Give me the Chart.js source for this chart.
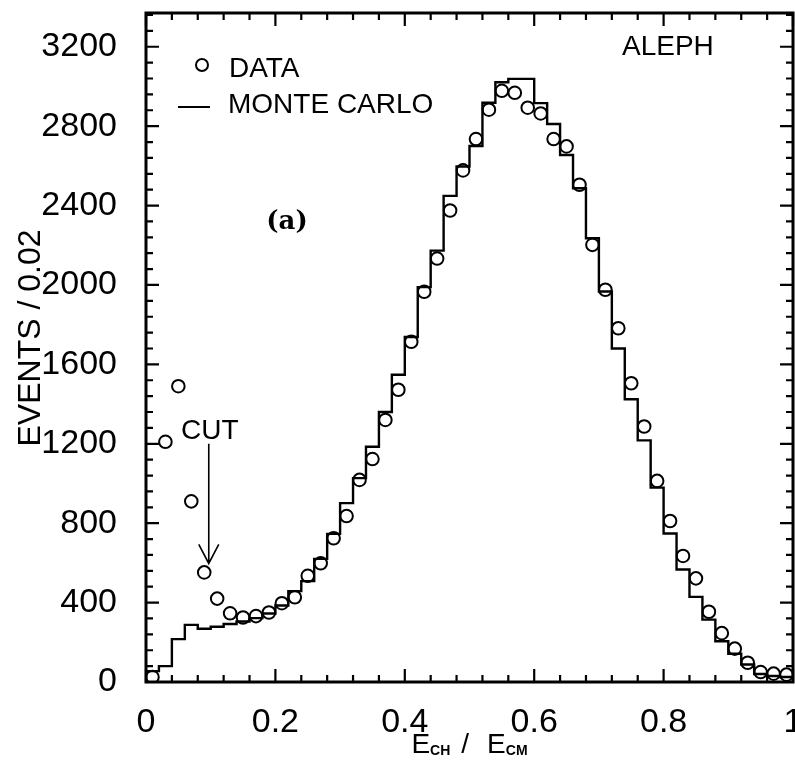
<!DOCTYPE html>
<html>
<head>
<meta charset="utf-8">
<script src="https://cdn.jsdelivr.net/npm/chart.js@4.4.1/dist/chart.umd.min.js"></script>
<style>
  html, body { margin: 0; padding: 0; background: #fff; }
  #wrap { width: 795px; height: 765px; }
</style>
</head>
<body>
<div id="wrap"><canvas id="c" width="795" height="765"></canvas></div>
<script>
// Bin centres of E_CH / E_CM (bin width 0.02)
const binCenters = [
  0.01, 0.03, 0.05, 0.07, 0.09, 0.11, 0.13, 0.15, 0.17, 0.19,
  0.21, 0.23, 0.25, 0.27, 0.29, 0.31, 0.33, 0.35, 0.37, 0.39,
  0.41, 0.43, 0.45, 0.47, 0.49, 0.51, 0.53, 0.55, 0.57, 0.59,
  0.61, 0.63, 0.65, 0.67, 0.69, 0.71, 0.73, 0.75, 0.77, 0.79,
  0.81, 0.83, 0.85, 0.87, 0.89, 0.91, 0.93, 0.95, 0.97, 0.99
];
const binWidth = 0.02;

// DATA (open circles), events / 0.02
const dataEvents = [
  25, 1210, 1490, 910, 552, 420, 346, 325, 332, 350,
  397, 427, 535, 598, 724, 836, 1018, 1123, 1320, 1472,
  1714, 1966, 2133, 2375, 2577, 2735, 2883, 2978, 2968, 2893,
  2864, 2735, 2698, 2505, 2202, 1976, 1782, 1505, 1287, 1013,
  811, 635, 522, 354, 246, 168, 97, 50, 42, 37
];

// MONTE CARLO (histogram), events / 0.02
const monteCarlo = [
  55, 80, 216, 288, 268, 278, 292, 305, 322, 345,
  385, 458, 508, 620, 746, 901, 1027, 1185, 1360, 1548,
  1738, 1989, 2173, 2449, 2597, 2700, 2918, 3021, 3038, 3038,
  2916, 2811, 2655, 2487, 2235, 1967, 1680, 1424, 1217, 979,
  748, 567, 429, 314, 205, 142, 88, 40, 30, 25
];

const yTickValues = [0, 400, 800, 1200, 1600, 2000, 2400, 2800, 3200];
const xTickValues = [0, 0.2, 0.4, 0.6, 0.8, 1];

// histogram built from bin low edges, stepped line
const mcPoints = binCenters.map((c, i) => ({ x: c - binWidth / 2, y: monteCarlo[i] }));
mcPoints.push({ x: binCenters[binCenters.length - 1] + binWidth / 2, y: monteCarlo[monteCarlo.length - 1] });
const dataPoints = binCenters.map((c, i) => ({ x: c, y: dataEvents[i] }));

const SANS = "'Liberation Sans', Arial, Helvetica, sans-serif";

function zeroPad(s) { s.paddingTop = 0; s.paddingBottom = 0; s.paddingLeft = 0; s.paddingRight = 0; }

const decor = {
  id: 'decor',
  beforeDraw(chart) {
    const ctx = chart.ctx;
    ctx.save();
    ctx.fillStyle = '#fff';
    ctx.fillRect(0, 0, chart.width, chart.height);
    ctx.restore();
  },
  afterDraw(chart) {
    const ctx = chart.ctx;
    const a = chart.chartArea;
    const xs = chart.scales.x, ys = chart.scales.y;
    ctx.save();
    ctx.strokeStyle = '#000';
    ctx.fillStyle = '#000';
    // frame
    ctx.lineWidth = 3;
    ctx.strokeRect(a.left, a.top, a.right - a.left, a.bottom - a.top);
    // inward ticks
    ctx.lineWidth = 2.2;
    ctx.beginPath();
    for (let k = 0; k * 80 <= ys.max; k++) {
      const v = k * 80;
      const py = ys.getPixelForValue(v);
      const len = (k % 5 === 0) ? 13 : 7;
      ctx.moveTo(a.left, py); ctx.lineTo(a.left + len, py);
      ctx.moveTo(a.right, py); ctx.lineTo(a.right - len, py);
    }
    for (let k = 0; k <= 25; k++) {
      const v = k * 0.04;
      const px = xs.getPixelForValue(v);
      const len = (k % 5 === 0) ? 13 : 7;
      ctx.moveTo(px, a.bottom); ctx.lineTo(px, a.bottom - len);
      ctx.moveTo(px, a.top); ctx.lineTo(px, a.top + len);
    }
    ctx.stroke();

    // legend
    ctx.lineWidth = 2;
    ctx.beginPath();
    ctx.arc(202, 65, 6, 0, Math.PI * 2);
    ctx.stroke();
    ctx.beginPath();
    ctx.moveTo(178, 107); ctx.lineTo(210, 107);
    ctx.stroke();
    ctx.font = '28px ' + SANS;
    ctx.textAlign = 'left';
    ctx.textBaseline = 'alphabetic';
    ctx.fillText('DATA', 229, 77);
    ctx.fillText('MONTE CARLO', 228, 113);

    // ALEPH
    ctx.fillText('ALEPH', 622, 55);

    // (a)
    ctx.font = 'bold 26px "DejaVu Serif", "Liberation Serif", serif';
    ctx.textAlign = 'center';
    ctx.fillText('(a)', 287, 229);

    // CUT arrow
    const ax = xs.getPixelForValue(0.097);
    const aTop = ys.getPixelForValue(1200);
    const aTip = ys.getPixelForValue(597);
    ctx.font = '28px ' + SANS;
    ctx.textAlign = 'center';
    ctx.fillText('CUT', ax + 1, aTop - 5);
    ctx.lineWidth = 1.6;
    ctx.beginPath();
    ctx.moveTo(ax, aTop); ctx.lineTo(ax, aTip);
    ctx.moveTo(ax - 10, aTip - 19); ctx.lineTo(ax, aTip); ctx.lineTo(ax + 10, aTip - 19);
    ctx.stroke();

    // y-axis title
    ctx.save();
    ctx.translate(31, 338);
    ctx.rotate(-Math.PI / 2);
    ctx.font = '32px ' + SANS;
    ctx.textAlign = 'center';
    ctx.textBaseline = 'middle';
    ctx.fillText('EVENTS / 0.02', 0, 0);
    ctx.restore();

    // x-axis title  E_CH / E_CM
    const big = '28px ' + SANS;
    const small = 'bold 14px ' + SANS;
    const parts = [
      { t: 'E', f: big, dy: 0, gap: 0 },
      { t: 'CH', f: small, dy: 2, gap: 11 },
      { t: '/', f: big, dy: 0, gap: 18 },
      { t: 'E', f: big, dy: 0, gap: 0 },
      { t: 'CM', f: small, dy: 2, gap: 0 }
    ];
    let total = 0;
    parts.forEach(p => { ctx.font = p.f; p.w = ctx.measureText(p.t).width; total += p.w + p.gap; });
    let cx = (a.left + a.right) / 2 - total / 2;
    ctx.textAlign = 'left';
    ctx.textBaseline = 'alphabetic';
    parts.forEach(p => { ctx.font = p.f; ctx.fillText(p.t, cx, 753 + p.dy); cx += p.w + p.gap; });
    ctx.restore();
  }
};

new Chart(document.getElementById('c'), {
  data: {
    datasets: [
      {
        type: 'line',
        label: 'MONTE CARLO',
        data: mcPoints,
        stepped: true,
        borderColor: '#000',
        borderWidth: 2.4,
        pointRadius: 0,
        fill: false,
        order: 2
      },
      {
        type: 'scatter',
        label: 'DATA',
        data: dataPoints,
        showLine: false,
        pointStyle: 'circle',
        pointRadius: 6.3,
        pointBorderWidth: 2,
        pointBorderColor: '#000',
        pointBackgroundColor: 'rgba(255,255,255,0)',
        order: 1
      }
    ]
  },
  options: {
    responsive: false,
    animation: false,
    devicePixelRatio: 1,
    layout: { autoPadding: false, padding: { top: 13, right: 2, left: 0, bottom: 0 } },
    plugins: { legend: { display: false }, tooltip: { enabled: false } },
    scales: {
      x: {
        type: 'linear',
        min: 0, max: 1,
        grid: { display: false },
        border: { display: false },
        afterFit(s) { s.height = 83; zeroPad(s); },
        afterBuildTicks(s) { s.ticks = xTickValues.map(v => ({ value: v })); },
        ticks: {
          color: '#000',
          font: { family: SANS, size: 34 },
          padding: 12,
          maxRotation: 0,
          autoSkip: false,
          callback: v => (v === 0 ? '0' : v === 1 ? '1' : v.toFixed(1))
        }
      },
      y: {
        type: 'linear',
        min: 0, max: 3370,
        grid: { display: false },
        border: { display: false },
        afterFit(s) { s.width = 146; zeroPad(s); },
        afterBuildTicks(s) { s.ticks = yTickValues.map(v => ({ value: v })); },
        ticks: {
          color: '#000',
          font: { family: SANS, size: 34 },
          padding: 21,
          autoSkip: false,
          callback: v => String(v)
        }
      }
    }
  },
  plugins: [decor]
});
</script>
</body>
</html>
